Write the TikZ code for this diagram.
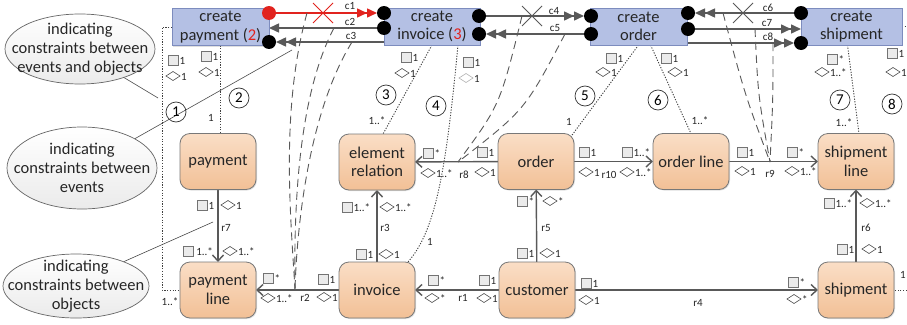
\documentclass[tikz,border=0pt]{standalone}
\usepackage{fontspec}
\setmainfont{Carlito}
\usetikzlibrary{arrows.meta,shapes.geometric,calc,shadows}
\pgfdeclarelayer{back}
\pgfdeclarelayer{bg}
\pgfsetlayers{back,bg,main}
\definecolor{evfill}{RGB}{180,192,228}
\definecolor{evdraw}{RGB}{125,140,190}
\definecolor{obtop}{RGB}{250,222,198}
\definecolor{obbot}{RGB}{242,192,150}
\definecolor{obdraw}{RGB}{120,120,120}
\definecolor{lgray}{RGB}{89,89,89}
\definecolor{dred}{RGB}{225,35,30}
\newcommand\msq[3]{\node[sqi] at (#1,#2) {};\node[mtext,anchor=west] at (#1+6.5,#2+0.5) {#3};}
\newcommand\mdm[3]{\node[dmi] at (#1,#2) {};\node[mtext,anchor=west] at (#1+8,#2+0.5) {#3};}
\newcommand\mdml[3]{\node[dmi,draw=black!30] at (#1,#2) {};\node[mtext,anchor=west] at (#1+8,#2+0.5) {#3};}
\begin{document}
\begin{tikzpicture}[x=1pt,y=-1pt,
  every node/.style={inner sep=0pt,outer sep=0pt},
  bigfont/.style={font=\fontsize{16.5}{18.5}\selectfont},
  event/.style={bigfont,draw=evdraw,fill=evfill,line width=0.8pt,minimum height=37pt,align=center,text=black!85,drop shadow={shadow xshift=1pt,shadow yshift=-1pt,opacity=0.25}},
  obj/.style={bigfont,draw=obdraw,top color=obtop,bottom color=obbot,rounded corners=10pt,minimum width=76pt,minimum height=56pt,align=center,line width=0.8pt,text=black!85,drop shadow={shadow xshift=1pt,shadow yshift=-1pt,opacity=0.25}},
  port/.style={circle,fill=black,minimum size=14pt},
  elshape/.style={ellipse,draw=black!60,top color=white,bottom color=black!8,line width=0.7pt},
  eltext/.style={font=\fontsize{16.5}{19}\selectfont,align=center,text=black!85},
  cnum/.style={circle,draw=black!80,line width=0.7pt,minimum size=20pt,font=\fontsize{15}{15}\selectfont},
  sqi/.style={draw=black!55,fill=black!8,minimum size=10pt,line width=0.5pt},
  dmi/.style={diamond,draw=black!70,fill=white,minimum width=14pt,minimum height=9pt,line width=0.6pt},
  mtext/.style={font=\fontsize{11}{11}\selectfont,text=black!85},
  clab/.style={font=\fontsize{11}{11}\selectfont,text=black!85},
  evar/.style={draw=lgray,line width=1.5pt,-{Triangle[length=10pt,width=9pt] Triangle[length=10pt,width=9pt]}},
  evone/.style={draw=lgray,line width=1.5pt,-{Triangle[length=10pt,width=9pt]}},
  redar/.style={draw=dred,line width=1.5pt,-{Triangle[length=10pt,width=9pt] Triangle[length=10pt,width=9pt]}},
  rel/.style={draw=lgray,line width=1.4pt,-{Straight Barb[length=6pt,width=11pt]}},
  dsh/.style={draw=lgray,line width=0.9pt,dash pattern=on 8pt off 5pt},
  dot/.style={draw=black!75,line width=0.9pt,dash pattern=on 1.2pt off 1.5pt},
  call/.style={draw=black!70,line width=0.6pt},
  xmark/.style={line width=0.9pt}
]
\begin{pgfonlayer}{back}\fill[white] (0,0) rectangle (907,324);\end{pgfonlayer}
\useasboundingbox (0,0) rectangle (907,324);

% event boxes
\node[event,minimum width=97pt] (cpay) at (220.5,27) {create\\payment (\textcolor{dred}{2})};
\node[event,minimum width=96pt] (cinv) at (432,26.5) {create\\invoice (\textcolor{dred}{3})};
\node[event,minimum width=97pt] (cord) at (638.5,26.5) {create\\order};
\node[event,minimum width=101pt] (cship) at (851.5,26.5) {create\\shipment};

% ports
\node[port,fill=dred] (cp1) at (269,13) {};
\node[port] (cp2) at (269,42) {};
\node[port] (ci1) at (384,13) {};
\node[port] (ci2) at (384,28) {};
\node[port] (ci3) at (479,16) {};
\node[port] (ci4) at (479,34) {};
\node[port] (co1) at (591,16) {};
\node[port] (co2) at (591,34) {};
\node[port] (co3) at (688,13) {};
\node[port] (co4) at (688,29) {};
\node[port] (cs1) at (801,13) {};
\node[port] (cs2) at (801,43) {};

% objects
\node[obj] (payment) at (218,161.5) {payment};
\node[obj] (elrel) at (377,162) {element\\relation};
\node[obj] (order) at (536,161.5) {order};
\node[obj] (orderline) at (691,161.5) {order line};
\node[obj] (shipline) at (856,161.5) {shipment\\line};
\node[obj] (payline) at (218,290) {payment\\line};
\node[obj] (invoice) at (377,290) {invoice};
\node[obj] (customer) at (537,290) {customer};
\node[obj] (shipment) at (856,290) {shipment};

% ellipses
\node[elshape,minimum width=150pt,minimum height=70pt] (el1) at (80,49) {};
\node[eltext] at (el1) {indicating\\constraints between\\events and objects};
\node[elshape,minimum width=150pt,minimum height=82pt] (el2) at (82,168) {};
\node[eltext] at (el2) {indicating\\constraints between\\events};
\node[elshape,minimum width=146pt,minimum height=64pt] (el3) at (76,286) {};
\node[eltext] at (el3) {indicating\\constraints between\\objects};

% circled numbers
\node[cnum] (n1) at (176,112) {1};
\node[cnum] (n2) at (239,98) {2};
\node[cnum] (n3) at (386,95) {3};
\node[cnum] (n4) at (436,106) {4};
\node[cnum] (n5) at (585,96) {5};
\node[cnum] (n6) at (658,100) {6};
\node[cnum] (n7) at (840,100) {7};
\node[cnum] (n8) at (892,104) {8};

% coordinates
\coordinate (r2p) at (295,290);
\coordinate (r8p) at (458,162);
\coordinate (r9p) at (770,162);
\coordinate (k1) at (307,13);
\coordinate (k2) at (334,28);
\coordinate (k3) at (352,42);
\coordinate (k4) at (522,16);
\coordinate (k5) at (565,34);
\coordinate (k6) at (723,13);
\coordinate (k7) at (755,29);
\coordinate (k8) at (773,43);
\coordinate (cl1) at (158,98);
\coordinate (cl2) at (292,50);
\coordinate (cl3) at (213,222);

\begin{pgfonlayer}{bg}
% event relations
\draw[redar] (cp1) -- (ci1);
\draw[evone] (ci2) -- (ci2 -| cpay.east);
\draw[evar] (cp2 -| cinv.west) -- (cp2);
\draw[evar] (ci3) -- (co1);
\draw[evar] (co2) -- (ci4);
\draw[evar] (cs1) -- (co3);
\draw[evar] (co4) -- (co4 -| cship.west);
\draw[evar] (cs2 -| cord.east) -- (cs2);
% dashed
\draw[dsh] (k1) .. controls (280,110) and (291,220) .. (r2p);
\draw[dsh] (k2) .. controls (296,100) and (294,220) .. (r2p);
\draw[dsh] (k3) .. controls (310,110) and (297,220) .. (r2p);
\draw[dsh] (k4) .. controls (500,105) .. (r8p);
\draw[dsh] (k5) .. controls (525,110) .. (r8p);
\draw[dsh] (k6) .. controls (745,95) .. (r9p);
\draw[dsh] (k7) .. controls (758,95) .. (r9p);
\draw[dsh] (k8) .. controls (773,100) .. (r9p);
% dotted
\draw[dot] (cpay.west) -- ++(-10,0) |- (payline.west);
\draw[dot] (cpay.south) -- (cpay.south |- payment.north);
\draw[dot] (cinv.south) -- ([xshift=6pt]elrel.north);
\draw[dot] ([xshift=26pt]cinv.south) .. controls (446,170) and (436,230) .. ([xshift=31pt]invoice.north);
\draw[dot] (cord.south) -- ([xshift=-3pt,yshift=-3pt]order.north east);
\draw[dot] ([xshift=12pt]cord.south) -- (orderline.north);
\draw[dot] ([xshift=-4pt]cship.south) -- ([xshift=3pt]shipline.north);
\draw[dot] (cship.east) -- ++(7,0) |- (shipment.east);
% object relations
\draw[rel] (payment) -- (payline);
\draw[rel] (invoice) -- (payline);
\draw[rel] (invoice) -- (elrel);
\draw[rel] (customer) -- (invoice);
\draw[rel] (customer) -- (order);
\draw[rel] (customer) -- (shipment);
\draw[rel] (shipment) -- (shipline);
\draw[rel] (order) -- (elrel);
\draw[rel] (order) -- (orderline);
\draw[rel] (orderline) -- (shipline);
% callouts
\draw[call] (el1.-33) -- (cl1);
\draw[call] (el2.29) -- (cl2);
\draw[call] (el3.27) -- (cl3);
\end{pgfonlayer}

% X marks
\draw[xmark,draw=dred] (313,3) -- (333,23) (313,23) -- (333,3);
\draw[xmark,draw=lgray] (522,6) -- (542,26) (522,26) -- (542,6);
\draw[xmark,draw=lgray] (733,3) -- (753,23) (733,23) -- (753,3);

% c labels
\node[clab] (lc1) at (350,6) {c1};
\node[clab] (lc2) at (350,22) {c2};
\node[clab] (lc3) at (351,36) {c3};
\node[clab] (lc4) at (554,11) {c4};
\node[clab] (lc5) at (555,28) {c5};
\node[clab] (lc6) at (768,8) {c6};
\node[clab] (lc7) at (767,23) {c7};
\node[clab] (lc8) at (768,37) {c8};

% r labels
\node[clab] (lr7) at (226,228) {r7};
\node[clab] (lr2) at (305,298) {r2};
\node[clab] (lr3) at (385,228) {r3};
\node[clab] (lr1) at (463,298) {r1};
\node[clab] (lr5) at (546,228) {r5};
\node[clab] (lr4) at (698,303) {r4};
\node[clab] (lr6) at (866,228) {r6};
\node[clab] (lr8) at (464,175) {r8};
\node[clab] (lr10) at (609,175) {r10};
\node[clab] (lr9) at (770,174) {r9};

% multiplicities at events
\msq{173}{60}{1} \mdm{173}{76}{1}
\msq{206}{56}{1} \mdm{206}{72}{1}
\msq{406}{57}{1} \mdm{402}{73}{1}
\msq{468}{62}{1} \mdml{466}{78}{1}
\msq{611}{58}{1} \mdm{603}{72}{1}
\msq{666}{58}{1} \mdm{675}{72}{1}
\msq{832}{59}{*} \mdm{822}{72}{1..*}
\msq{892}{53}{1} \mdm{893}{72}{1}

\node[mtext] at (170,302) {1..*};
\node[mtext] at (211,118) {1};
\node[mtext] at (377,121) {1..*};
\node[mtext] at (430,242) {1};
\node[mtext] at (569,122) {1};
\node[mtext] at (700,121) {1..*};
\node[mtext] at (844,123) {1..*};
\node[mtext] at (903,275) {1};

% multiplicities at relations
\msq{202}{205}{1} \mdm{228}{205}{1}
\msq{188}{251}{\,1..*} \mdm{230}{251}{1..*}
\msq{268}{278}{*} \mdm{268}{298}{1..*}
\msq{323}{279}{1} \mdm{324}{297}{1}
\msq{347}{207}{1..*} \mdm{387}{207}{1..*}
\msq{361}{254}{1} \mdm{386}{254}{1}
\msq{433}{280}{*} \mdm{432}{298}{*}
\msq{484}{280}{1} \mdm{484}{298}{1}
\msq{522}{201}{*} \mdm{550}{201}{*}
\msq{522}{253}{1} \mdm{547}{253}{1}
\msq{586}{283}{1} \mdm{586}{300}{1}
\msq{793}{282}{*} \mdm{794}{299}{*}
\msq{829}{203}{1..*} \mdm{867}{203}{1..*}
\msq{842}{249}{1} \mdm{869}{249}{1}
\msq{428}{153}{*} \mdm{428}{173}{1..*}
\msq{482}{152}{1} \mdm{482}{172}{1}
\msq{584}{152}{1} \mdm{586}{172}{1}
\msq{627}{152}{1..*} \mdm{627}{172}{1..*}
\msq{742}{152}{1} \mdm{742}{171}{1}
\msq{792}{152}{*} \mdm{792}{171}{1..*}
\end{tikzpicture}
\end{document}
